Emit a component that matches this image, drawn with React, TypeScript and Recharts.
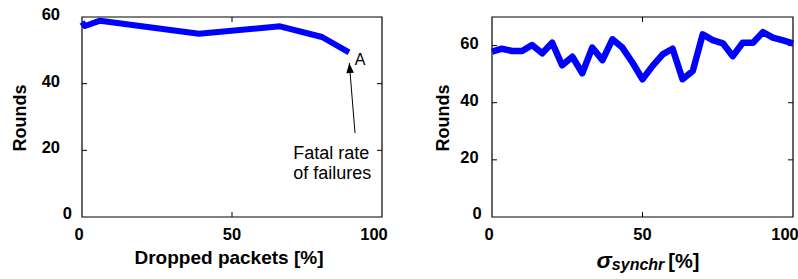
import React from 'react';
import { LineChart, Line, XAxis, YAxis, ReferenceLine, ReferenceDot, ReferenceArea } from 'recharts';

// ── Data ─────────────────────────────────────────────────────────────────────
const droppedPct = [0, 1, 6, 39, 66, 80, 89];
const droppedRounds = [58.5, 57.3, 58.9, 55.0, 57.2, 54.0, 49.4];

const sigmaPct = [
  0, 3.3, 6.7, 10, 13.3, 16.7, 20, 23.3, 26.7, 30, 33.3, 36.7, 40, 43.3, 46.7, 50,
  53.3, 56.7, 60, 63.3, 66.7, 70, 73.3, 76.7, 80, 83.3, 86.7, 90, 93.3, 96.7, 100,
];
const sigmaRounds = [
  57.9, 58.9, 58.1, 58.1, 60.2, 57.3, 61.0, 53.1, 56.1, 50.3, 59.3, 54.9, 62.2, 59.3, 54.0, 48.2,
  52.8, 56.9, 58.9, 48.2, 51.1, 63.9, 61.9, 60.8, 56.3, 61.0, 61.0, 64.7, 62.8, 61.8, 60.8,
];

const xTicks = [0, 50, 100];
const yTicks = [0, 20, 40, 60];

// annotation anchor points (data coords of the left panel)
const arrowTip = { x: 89.1, y: 46.2 };
const arrowTail = { x: 91, y: 25.2 };

const droppedData = droppedPct.map((p, i) => ({ pct: p, rounds: droppedRounds[i] }));
const sigmaData = sigmaPct.map((p, i) => ({ pct: p, rounds: sigmaRounds[i] }));

const FONT = '"Liberation Sans", Arial, Helvetica, sans-serif';
const BLUE = '#0000ff';
const TICK_LEN = 5;

// ── Tick labels (tickSize=5, tickMargin=0 → label anchor sits 5px off the axis)
const BottomTick = ({ x, y, payload }: any) => {
  const shift = payload.value === 0 ? -3 : payload.value === 100 ? -8 : 0;
  return (
    <text x={x + shift} y={y - 5 + 22.5} textAnchor="middle" fontFamily={FONT}
          fontWeight="bold" fontSize={16.5} fill="#000">
      {payload.value}
    </text>
  );
};

const makeLeftTick = (gap: number, zeroShift: number) => ({ x, y, payload }: any) => {
  const isZero = payload.value === 0;
  return (
    <text x={x + 5 - gap + (isZero ? zeroShift : 0)} y={y + 4 - (isZero ? 2 : 1)} textAnchor="end"
          fontFamily={FONT} fontWeight="bold" fontSize={16.5} fill="#000">
      {payload.value}
    </text>
  );
};

const LeftPanelTick = makeLeftTick(22, 12);
const RightPanelTick = makeLeftTick(13.3, 3);

// ── Inward tick marks: short stubs at both ends of a reference line ─────────
const HTicks = (p: any) => {
  const l = Math.min(p.x1, p.x2), r = Math.max(p.x1, p.x2);
  return (
    <g>
      <line x1={l} x2={l + TICK_LEN} y1={p.y1} y2={p.y1} stroke="#000" strokeWidth={1} />
      <line x1={r - TICK_LEN} x2={r} y1={p.y1} y2={p.y1} stroke="#000" strokeWidth={1} />
    </g>
  );
};

const VTicks = (p: any) => {
  const t = Math.min(p.y1, p.y2), b = Math.max(p.y1, p.y2);
  return (
    <g>
      <line x1={p.x1} x2={p.x1} y1={t} y2={t + TICK_LEN} stroke="#000" strokeWidth={1} />
      <line x1={p.x1} x2={p.x1} y1={b - TICK_LEN} y2={b} stroke="#000" strokeWidth={1} />
    </g>
  );
};

// ── Axis titles ──────────────────────────────────────────────────────────────
const roundsTitle = (bx: number) => ({ viewBox }: any) => {
  const x = viewBox.x + bx;
  const y = viewBox.y + viewBox.height / 2 + 1;
  return (
    <text x={x} y={y} transform={`rotate(-90, ${x}, ${y})`} textAnchor="middle"
          fontFamily={FONT} fontWeight="bold" fontSize={18} fill="#000">
      Rounds
    </text>
  );
};

const droppedTitle = ({ viewBox }: any) => (
  <text x={viewBox.x + viewBox.width / 2 - 3} y={viewBox.y + 46.7} textAnchor="middle"
        fontFamily={FONT} fontWeight="bold" fontSize={19} fill="#000">
    Dropped packets [%]
  </text>
);

const sigmaTitle = ({ viewBox }: any) => (
  <text x={viewBox.x + viewBox.width / 2 + 5.5} y={viewBox.y + 50.7} textAnchor="middle"
        fontFamily={FONT} fontWeight="bold" fill="#000">
    <tspan fontSize={23} fontStyle="italic">σ</tspan>
    <tspan fontSize={16} fontStyle="italic" dy={2.5}>synchr</tspan>
    <tspan fontSize={20} dx={4} dy={-2.5}>[%]</tspan>
  </text>
);

// ── Annotation shapes ────────────────────────────────────────────────────────
const ArrowHead = ({ cx, cy }: any) => (
  <g>
    <path d={`M${cx},${cy} L${cx - 3.8},${cy + 10} L${cx + 3.8},${cy + 10} Z`}
          fill="#000" transform={`rotate(-4.7, ${cx}, ${cy})`} />
    <text x={cx + 5.4} y={cy + 2.4} fontFamily={FONT} fontSize={16} fill="#000">A</text>
  </g>
);

const FatalText = ({ cx, cy }: any) => (
  <text fontFamily={FONT} fontSize={18} fill="#000">
    <tspan x={cx - 61.7} y={cy + 26}>Fatal rate</tspan>
    <tspan x={cx - 61.7} y={cy + 46}>of failures</tspan>
  </text>
);

export default function App() {
  return (
    <div style={{ position: 'absolute', left: 0, top: 0, width: 798, height: 279, background: '#fff' }}>
      {/* Left panel: dropped packets */}
      <div style={{ position: 'absolute', left: 0, top: 0 }}>
        <LineChart width={400} height={279} data={droppedData}
                   margin={{ top: 17, right: 18, bottom: 0, left: 0 }}>
          <XAxis dataKey="pct" type="number" domain={[0, 100]} ticks={xTicks} interval={0}
                 height={62} tickSize={5} tickMargin={0} axisLine={false} tickLine={false}
                 tick={<BottomTick />} label={droppedTitle} />
          <YAxis type="number" domain={[0, 60]} ticks={yTicks} interval={0} width={82}
                 tickSize={5} tickMargin={0} axisLine={false} tickLine={false}
                 tick={<LeftPanelTick />} label={roundsTitle(25.5)} />
          <ReferenceArea x1={0} x2={100} y1={0} y2={60} fill="none" stroke="#000" strokeWidth={1.2} />
          <ReferenceLine x={50} stroke="#000" shape={VTicks} />
          <ReferenceLine y={20} stroke="#000" shape={HTicks} />
          <ReferenceLine y={40} stroke="#000" shape={HTicks} />
          <Line type="linear" dataKey="rounds" stroke={BLUE} strokeWidth={6} dot={false}
                strokeLinejoin="round" isAnimationActive={false} />
          <ReferenceLine segment={[arrowTail, arrowTip]} stroke="#000" strokeWidth={1} />
          <ReferenceDot x={arrowTip.x} y={arrowTip.y} r={0} shape={ArrowHead} />
          <ReferenceDot x={arrowTail.x} y={arrowTail.y} r={0} shape={FatalText} />
        </LineChart>
      </div>

      {/* Right panel: sigma synchr */}
      <div style={{ position: 'absolute', left: 400, top: 0 }}>
        <LineChart width={398} height={279} data={sigmaData}
                   margin={{ top: 17, right: 5, bottom: 0, left: 0 }}>
          <XAxis dataKey="pct" type="number" domain={[0, 100]} ticks={xTicks} interval={0}
                 height={62} tickSize={5} tickMargin={0} axisLine={false} tickLine={false}
                 tick={<BottomTick />} label={sigmaTitle} />
          <YAxis type="number" domain={[0, 70]} ticks={yTicks} interval={0} width={92}
                 tickSize={5} tickMargin={0} axisLine={false} tickLine={false}
                 tick={<RightPanelTick />} label={roundsTitle(49)} />
          <ReferenceArea x1={0} x2={100} y1={0} y2={70} fill="none" stroke="#000" strokeWidth={1.2} />
          <ReferenceLine x={50} stroke="#000" shape={VTicks} />
          <ReferenceLine y={20} stroke="#000" shape={HTicks} />
          <ReferenceLine y={40} stroke="#000" shape={HTicks} />
          <ReferenceLine y={60} stroke="#000" shape={HTicks} />
          <Line type="linear" dataKey="rounds" stroke={BLUE} strokeWidth={6.5} dot={false}
                strokeLinejoin="round" isAnimationActive={false} />
        </LineChart>
      </div>
    </div>
  );
}
